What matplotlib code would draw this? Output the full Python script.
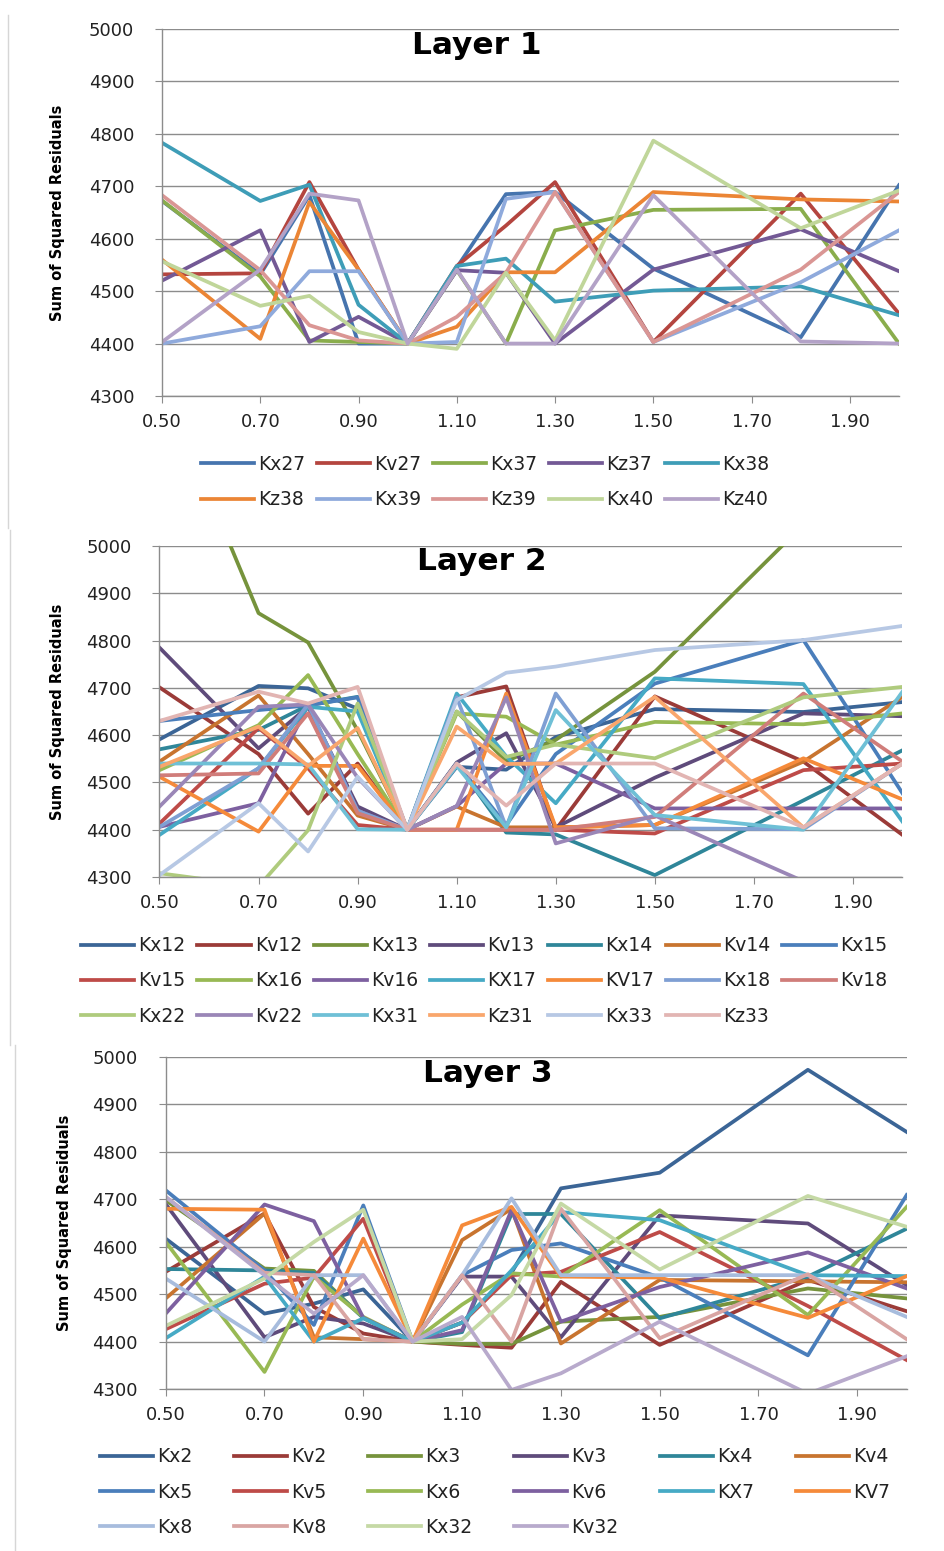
import matplotlib
matplotlib.use("Agg")
import matplotlib.pyplot as plt
from matplotlib.lines import Line2D

plt.rcParams['font.family'] = ['DejaVu Sans']

W, H = 945, 1551

# shared x positions of the measurements
x_vals = [0.5, 0.7, 0.8, 0.9, 1.0, 1.1, 1.2, 1.3, 1.5, 1.8, 2.0]
x_ticks = [0.5, 0.7, 0.9, 1.1, 1.3, 1.5, 1.7, 1.9]
y_ticks = [4300, 4400, 4500, 4600, 4700, 4800, 4900, 5000]

# ---------------- Layer 1 ----------------
l1_names = ["Kx27", "Kv27", "Kx37", "Kz37", "Kx38", "Kz38", "Kx39", "Kz39", "Kx40", "Kz40"]
l1_values = [
    [4672, 4532, 4683, 4400, 4400, 4545, 4685, 4689, 4543, 4412, 4702],
    [4532, 4534, 4708, 4541, 4400, 4548, 4625, 4708, 4403, 4686, 4457],
    [4673, 4528, 4406, 4403, 4400, 4540, 4400, 4616, 4655, 4657, 4400],
    [4520, 4616, 4403, 4451, 4400, 4540, 4535, 4400, 4541, 4618, 4538],
    [4783, 4672, 4703, 4474, 4400, 4548, 4562, 4480, 4501, 4509, 4454],
    [4560, 4409, 4670, 4541, 4400, 4432, 4536, 4536, 4689, 4675, 4671],
    [4400, 4433, 4538, 4538, 4400, 4403, 4676, 4689, 4403, 4517, 4616],
    [4683, 4540, 4435, 4406, 4400, 4451, 4535, 4689, 4403, 4541, 4689],
    [4557, 4472, 4491, 4422, 4400, 4390, 4535, 4406, 4787, 4620, 4692],
    [4403, 4541, 4686, 4673, 4400, 4541, 4400, 4400, 4683, 4404, 4400],
]
l1_colors = ['#4674AE', '#B4453F', '#8AAD4C', '#735995', '#3E9DB7', '#EB8535',
             '#8FAADC', '#DA9694', '#C0D69A', '#B3A2C7']

# ---------------- Layer 2 ----------------
l2_names = ["Kx12", "Kv12", "Kx13", "Kv13", "Kx14", "Kv14", "Kx15",
            "Kv15", "Kx16", "Kv16", "KX17", "KV17", "Kx18", "Kv18",
            "Kx22", "Kv22", "Kx31", "Kz31", "Kx33", "Kz33"]
l2_values = [
    [4591, 4704, 4699, 4656, 4400, 4533, 4527, 4596, 4655, 4649, 4670],
    [4701, 4560, 4434, 4540, 4400, 4680, 4703, 4400, 4682, 4544, 4389],
    [5360, 4858, 4796, 4610, 4400, 4650, 4545, 4590, 4734, 5045, 5300],
    [4785, 4572, 4660, 4449, 4400, 4542, 4604, 4405, 4510, 4646, 4640],
    [4570, 4611, 4663, 4681, 4400, 4540, 4394, 4390, 4304, 4462, 4568],
    [4544, 4684, 4560, 4430, 4400, 4449, 4405, 4405, 4410, 4544, 4681],
    [4630, 4653, 4663, 4680, 4400, 4540, 4410, 4560, 4709, 4801, 4477],
    [4413, 4615, 4530, 4410, 4400, 4400, 4400, 4400, 4392, 4526, 4540],
    [4526, 4621, 4727, 4560, 4400, 4646, 4639, 4580, 4628, 4623, 4646],
    [4406, 4456, 4663, 4440, 4400, 4450, 4540, 4540, 4445, 4445, 4445],
    [4389, 4530, 4660, 4650, 4400, 4688, 4555, 4456, 4720, 4708, 4417],
    [4512, 4396, 4535, 4535, 4400, 4400, 4688, 4405, 4410, 4551, 4464],
    [4406, 4530, 4665, 4440, 4400, 4680, 4405, 4688, 4403, 4401, 4540],
    [4515, 4519, 4646, 4435, 4400, 4400, 4400, 4400, 4427, 4688, 4544],
    [4308, 4280, 4399, 4667, 4400, 4650, 4554, 4580, 4551, 4680, 4702],
    [4449, 4660, 4665, 4510, 4400, 4450, 4680, 4371, 4430, 4291, 4200],
    [4540, 4540, 4538, 4401, 4400, 4535, 4405, 4653, 4431, 4400, 4692],
    [4533, 4618, 4535, 4615, 4400, 4618, 4539, 4540, 4681, 4405, 4540],
    [4304, 4456, 4354, 4512, 4400, 4674, 4732, 4745, 4780, 4801, 4831],
    [4630, 4692, 4667, 4702, 4400, 4540, 4451, 4540, 4540, 4405, 4540],
]
l2_colors = ['#3B6596', '#9B3B38', '#76933C', '#5F4B7B', '#2F8699', '#C8742F',
             '#4A7EBB', '#BE4B48', '#98B954', '#7D60A0', '#46AAC5', '#F58A3A',
             '#7F9FD3', '#D07D7A', '#AFCB7D', '#9A86B7', '#6FC0D6', '#F9A66C',
             '#B7C8E4', '#E2B5B3']

# ---------------- Layer 3 ----------------
l3_names = ["Kx2", "Kv2", "Kx3", "Kv3", "Kx4", "Kv4",
            "Kx5", "Kv5", "Kx6", "Kv6", "KX7", "KV7",
            "Kx8", "Kv8", "Kx32", "Kv32"]
l3_values = [
    [4617, 4459, 4480, 4510, 4400, 4440, 4545, 4723, 4756, 4973, 4842],
    [4547, 4670, 4473, 4417, 4400, 4393, 4387, 4526, 4393, 4530, 4464],
    [4698, 4554, 4549, 4450, 4400, 4395, 4395, 4442, 4452, 4512, 4491],
    [4690, 4409, 4452, 4438, 4400, 4537, 4537, 4409, 4666, 4649, 4519],
    [4553, 4550, 4545, 4450, 4400, 4420, 4669, 4669, 4449, 4537, 4638],
    [4491, 4670, 4409, 4405, 4400, 4614, 4680, 4396, 4530, 4527, 4525],
    [4719, 4550, 4435, 4687, 4400, 4540, 4593, 4607, 4535, 4371, 4709],
    [4426, 4522, 4535, 4659, 4400, 4440, 4540, 4547, 4631, 4475, 4361],
    [4610, 4336, 4537, 4452, 4400, 4478, 4544, 4537, 4677, 4456, 4684],
    [4459, 4689, 4654, 4450, 4400, 4424, 4677, 4442, 4515, 4588, 4512],
    [4407, 4537, 4400, 4449, 4400, 4440, 4550, 4673, 4656, 4540, 4538],
    [4680, 4678, 4400, 4617, 4400, 4645, 4684, 4537, 4535, 4450, 4538],
    [4533, 4400, 4540, 4540, 4400, 4540, 4702, 4540, 4540, 4540, 4452],
    [4705, 4545, 4540, 4405, 4400, 4540, 4400, 4680, 4407, 4542, 4405],
    [4433, 4533, 4610, 4678, 4400, 4405, 4498, 4691, 4552, 4707, 4642],
    [4705, 4540, 4459, 4540, 4400, 4452, 4298, 4333, 4442, 4290, 4369],
]
l3_colors = ['#3B6596', '#9B3B38', '#76933C', '#5F4B7B', '#2F8699', '#C8742F',
             '#4A7EBB', '#BE4B48', '#98B954', '#7D60A0', '#46AAC5', '#F58A3A',
             '#A7BCDD', '#D9A5A3', '#C5D9A5', '#B8AACC']

GRID = '#8C8C8C'
LW = 2.7

fig = plt.figure(figsize=(W / 100, H / 100), dpi=100)


def row_major(items, ncol):
    # Excel fills legend rows left to right, matplotlib fills columns
    n = len(items)
    nrows = -(-n // ncol)
    out = []
    for c in range(ncol):
        for r in range(nrows):
            i = r * ncol + c
            if i < n:
                out.append(items[i])
    return out


def draw_layer(box, title, title_xy, names, values, colors, ylab_x,
               ncol, leg_xy, colsp):
    left, top, right, bottom = box
    ax = fig.add_axes([left / W, 1 - bottom / H, (right - left) / W, (bottom - top) / H])
    for name, ys, c in zip(names, values, colors):
        ax.plot(x_vals, ys, color=c, lw=LW, label=name)

    ax.set_xlim(0.5, 2.0)
    ax.set_ylim(4300, 5000)
    ax.set_xticks(x_ticks)
    ax.set_xticklabels([f"{v:.2f}" for v in x_ticks])
    ax.set_yticks(y_ticks)
    ax.yaxis.grid(True, color=GRID, lw=1.0)
    ax.set_axisbelow(True)
    for s in ['top', 'right']:
        ax.spines[s].set_visible(False)
    for s in ['left', 'bottom']:
        ax.spines[s].set_color(GRID)
        ax.spines[s].set_linewidth(1.0)
    ax.tick_params(axis='x', direction='out', length=5, color=GRID,
                   labelsize=13, pad=7, labelcolor='#222222')
    ax.tick_params(axis='y', direction='out', length=5, color=GRID,
                   labelsize=13, pad=15, labelcolor='#222222')

    fig.text(title_xy[0] / W, 1 - title_xy[1] / H, title, ha='center', va='center',
             fontsize=22.5, fontweight='bold')
    fig.text(ylab_x / W, 1 - (top + bottom) / 2 / H, 'Sum of Squared Residuals',
             rotation=90, ha='center', va='center', fontsize=10.5, fontweight='bold')

    handles = [Line2D([], [], color=c, lw=LW) for c in colors]
    fig.legend(row_major(handles, ncol), row_major(names, ncol),
               loc='center', bbox_to_anchor=(leg_xy[0] / W, 1 - leg_xy[1] / H),
               ncol=ncol, frameon=False, fontsize=13.5, handlelength=2.85,
               handletextpad=0.22, columnspacing=colsp, labelspacing=0.86,
               labelcolor='#222222')
    return ax


draw_layer((162, 29, 899, 396), "Layer 1", (477, 46), l1_names, l1_values, l1_colors,
           58, 5, (485, 482), 0.6)
draw_layer((159.5, 546, 902.5, 877), "Layer 2", (482, 562), l2_names, l2_values, l2_colors,
           58, 7, (484, 981), 0.62)
draw_layer((165.7, 1057, 906.7, 1389), "Layer 3", (488, 1073), l3_names, l3_values, l3_colors,
           65, 6, (495, 1492), 2.2)

# faint chart-area borders on the left, as in the pasted Excel charts
for x0, y0, y1 in [(8, 15, 528), (10, 530, 1045), (15, 1045, 1551)]:
    fig.add_artist(Line2D([x0 / W, x0 / W], [1 - y0 / H, 1 - y1 / H],
                          transform=fig.transFigure, color='#D6D6D6', lw=1))

fig.savefig("out.png", dpi=100)
